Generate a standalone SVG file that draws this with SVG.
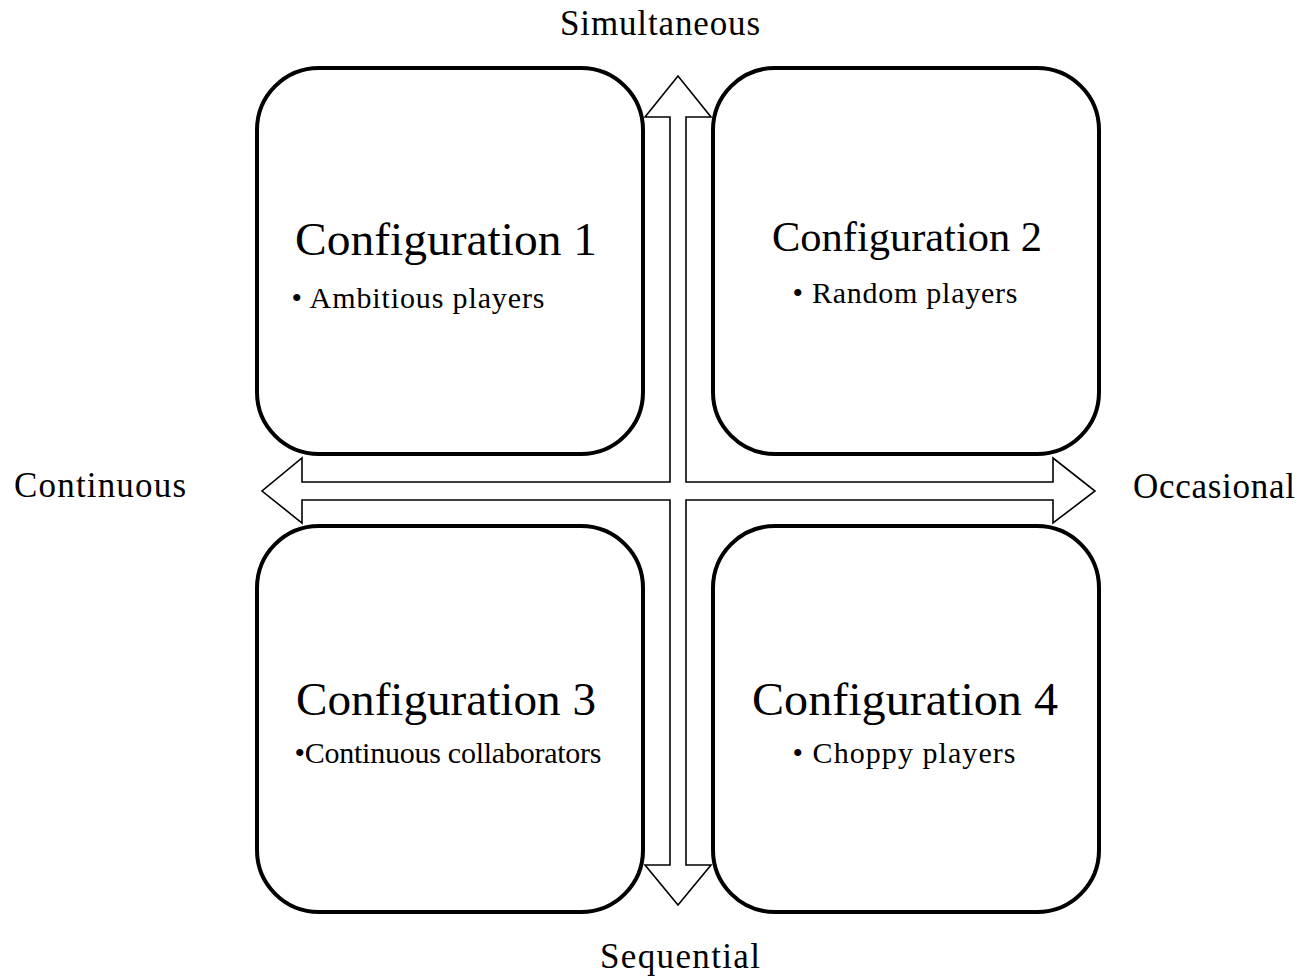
<svg xmlns="http://www.w3.org/2000/svg" width="1303" height="978" viewBox="0 0 1303 978">
<style>
text{font-family:"Liberation Serif","Times New Roman",serif;fill:#000}
.box{fill:#fff;stroke:#000;stroke-width:4}
.arrow{fill:#fff;stroke:#000;stroke-width:1.6;stroke-linejoin:miter}
.title{font-size:46px;text-anchor:middle}
.bul{font-size:30px;text-anchor:middle}
.lab{font-size:35px;text-anchor:middle}
</style>
<rect width="1303" height="978" fill="#fff"/>
<g id="connectors">
<path class="arrow" d="M645,117 L678,76 L711,117 L686,117 L686,482 L1053,482 L1053,458 L1095,491 L1053,523 L1053,500 L686,500 L686,865 L711,865 L678,905 L645,865 L670,865 L670,500 L302,500 L302,523 L262,491 L302,458 L302,482 L670,482 L670,117 Z"/>
</g>
<g id="node1">
<rect class="box" x="257" y="68" width="386" height="386" rx="62" ry="62"/>
<text class="title" x="446" y="255" textLength="302" lengthAdjust="spacingAndGlyphs">Configuration 1</text>
<text class="bul" x="418" y="308" textLength="253">• Ambitious players</text>
</g>
<g id="node2">
<rect class="box" x="713" y="68" width="386" height="386" rx="62" ry="62"/>
<text class="title" x="907" y="251" textLength="270" lengthAdjust="spacingAndGlyphs" style="font-size:42px">Configuration 2</text>
<text class="bul" x="905" y="303" textLength="225">• Random players</text>
</g>
<g id="node3">
<rect class="box" x="257" y="526" width="386" height="386" rx="62" ry="62"/>
<text class="title" x="446" y="715" textLength="300" lengthAdjust="spacingAndGlyphs">Configuration 3</text>
<text class="bul" x="448" y="763" textLength="307">•Continuous collaborators</text>
</g>
<g id="node4">
<rect class="box" x="713" y="526" width="386" height="386" rx="62" ry="62"/>
<text class="title" x="905" y="715" textLength="306" lengthAdjust="spacingAndGlyphs">Configuration 4</text>
<text class="bul" x="904" y="763" textLength="223">• Choppy players</text>
</g>
<g id="labels">
<text class="lab" x="660" y="35" textLength="200">Simultaneous</text>
<text class="lab" x="680" y="968" textLength="160">Sequential</text>
<text class="lab" x="100" y="497" textLength="172">Continuous</text>
<text class="lab" x="1214" y="498" textLength="162">Occasional</text>
</g>
</svg>
